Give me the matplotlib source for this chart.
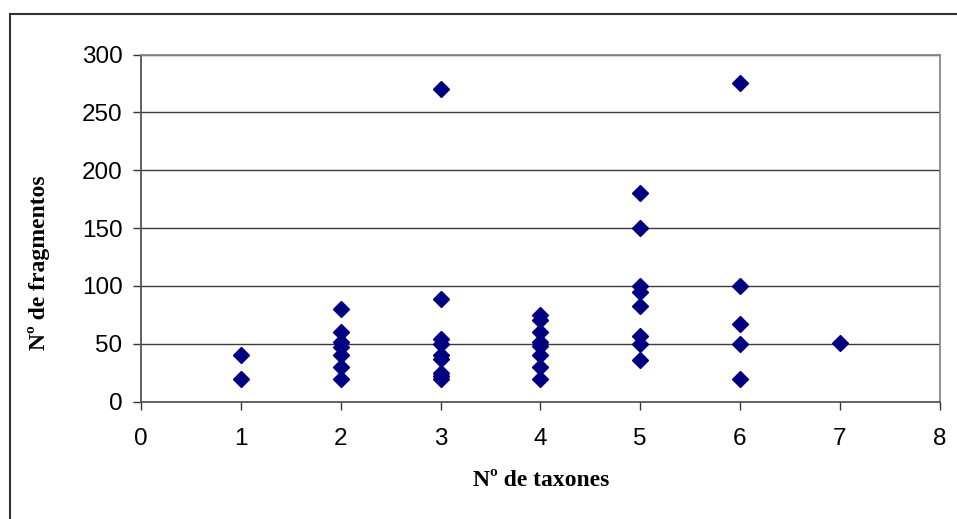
import matplotlib
matplotlib.use("Agg")
import matplotlib.pyplot as plt
from matplotlib.lines import Line2D

# n.º de taxones -> n.º de fragmentos
taxones = [1, 1,
           2, 2, 2, 2, 2, 2, 2,
           3, 3, 3, 3, 3, 3, 3, 3, 3,
           4, 4, 4, 4, 4, 4, 4, 4,
           5, 5, 5, 5, 5, 5, 5, 5,
           6, 6, 6, 6, 6,
           7]
fragmentos = [40, 20,
              80, 60, 52, 47, 40, 30, 20,
              270, 89, 54, 50, 40, 37, 25, 22, 20,
              75, 71, 60, 52, 48, 40, 30, 20,
              180, 150, 100, 95, 83, 57, 50, 36,
              275, 100, 67, 50, 20,
              51]
xticks = list(range(0, 9))
yticks = list(range(0, 301, 50))

fig = plt.figure(figsize=(9.57, 5.19), dpi=100)
ax = fig.add_axes([141.3 / 957, 1 - 401.7 / 519, (939.5 - 141.3) / 957, (401.7 - 54.5) / 519])

for y in yticks[1:]:
    ax.axhline(y, color="#3a3a3a", lw=1, zorder=1)
ax.plot(taxones, fragmentos, ls="none", marker="D", ms=8.4, color="#000080",
        mec="#000080", zorder=3, clip_on=False)

ax.set_xlim(0, 8); ax.set_ylim(0, 300)
ax.set_xticks(xticks); ax.set_yticks(yticks)
for s in ("top", "right"):
    ax.spines[s].set_color("#888888"); ax.spines[s].set_linewidth(1.3)
for s in ("left", "bottom"):
    ax.spines[s].set_color("#555555"); ax.spines[s].set_linewidth(1.3)
ax.tick_params(direction="out", length=6, width=1, color="#333333", labelsize=17.5)
ax.tick_params(axis="x", pad=13)
ax.tick_params(axis="y", pad=7.5)
for lab in ax.get_xticklabels() + ax.get_yticklabels():
    lab.set_family("Liberation Sans")

fig.text(541 / 957, 1 - 480 / 519, "Nº de taxones", ha="center", va="center",
         family="Liberation Serif", weight="bold", fontsize=17)
fig.text(39 / 957, 1 - 263 / 519, "Nº de fragmentos", ha="center", va="center",
         rotation=90, family="Liberation Serif", weight="bold", fontsize=17)

# marco exterior (solo lados visibles)
fig.add_artist(Line2D([10 / 957, 10 / 957], [0, 1 - 14 / 519], transform=fig.transFigure,
                      color="#333333", lw=1.5))
fig.add_artist(Line2D([10 / 957, 1], [1 - 14 / 519, 1 - 14 / 519], transform=fig.transFigure,
                      color="#333333", lw=1.5))

fig.savefig("out.png", dpi=100)
